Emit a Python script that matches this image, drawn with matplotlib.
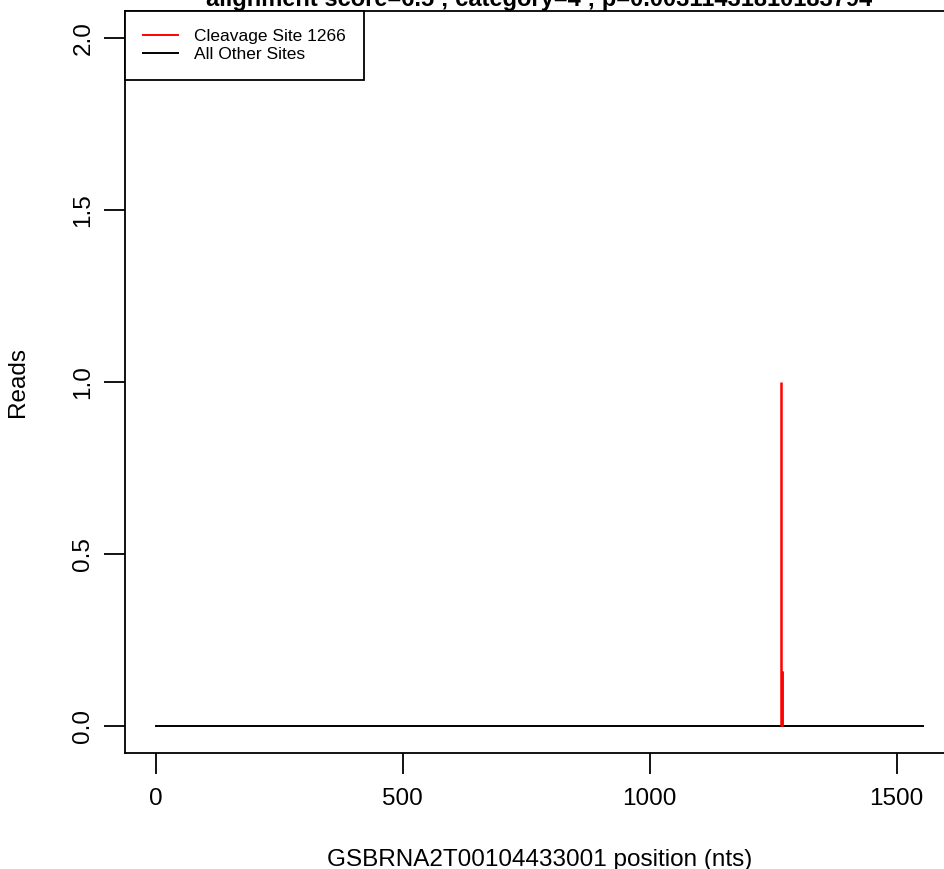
import matplotlib
matplotlib.use("Agg")
import matplotlib.pyplot as plt
import numpy as np

plt.rcParams['font.family'] = ['Liberation Sans', 'DejaVu Sans']

# transcript length and reads
transcript_len = 1554
other_pos = [0, transcript_len]
other_reads = [0, 0]

cleavage_site = 1266
cleavage_pos = [1266, 1267, 1268]
cleavage_reads = [1.0, 0.16, 0.16]

title = "alignment score=6.5 ; category=4 ; p=0.00311431810183794"
xlabel = "GSBRNA2T00104433001 position (nts)"
ylabel = "Reads"
xticks = [0, 500, 1000, 1500]
yticks = [0.0, 0.5, 1.0, 1.5, 2.0]

fig = plt.figure(figsize=(9.45, 8.69), dpi=100)
ax = fig.add_axes([125 / 945, 1 - 753 / 869, (954 - 125) / 945, (753 - 11) / 869])

ax.plot(other_pos, other_reads, color='black', lw=1.4, label='All Other Sites')
ax.vlines(cleavage_pos, 0, cleavage_reads, color='red', lw=1.8)
ax.plot([], [], color='red', lw=1.4, label='Cleavage Site %d' % cleavage_site)

ax.set_xlim(-0.04 * transcript_len, transcript_len * 1.04)
ax.set_ylim(-0.08, 2.08)
ax.set_xticks(xticks)
ax.set_xticklabels([str(t) for t in xticks])
ax.set_yticks(yticks)
ax.set_yticklabels(['%.1f' % t for t in yticks], rotation=90, va='center')
ax.tick_params(length=15, width=1.3, labelsize=17.5, pad=10, direction='out')
ax.tick_params(axis='y', pad=7)
for s in ax.spines.values():
    s.set_linewidth(1.3)

ax.set_xlabel(xlabel, fontsize=17.5, labelpad=28)
ax.set_ylabel(ylabel, fontsize=17.5, labelpad=31)
ax.set_title(title, fontsize=17, fontweight='bold', pad=1)

handles, labels = ax.get_legend_handles_labels()
leg = ax.legend(handles[::-1], labels[::-1], loc='upper left', borderaxespad=0,
                fancybox=False, edgecolor='black', fontsize=12.5, handlelength=2.0,
                handletextpad=0.9, framealpha=1, borderpad=1.05, labelspacing=0.15)
leg.get_frame().set_linewidth(1.3)

fig.savefig("out.png", dpi=100)
